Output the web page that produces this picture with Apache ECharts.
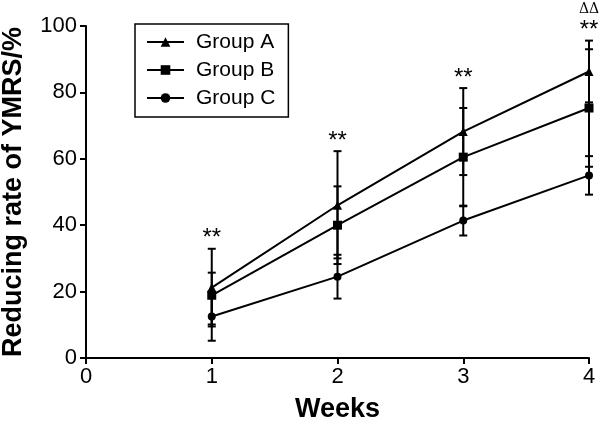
<!DOCTYPE html>
<html><head><meta charset="utf-8">
<script src="https://cdn.jsdelivr.net/npm/echarts@6/dist/echarts.min.js"></script>
<style>html,body{margin:0;padding:0;background:#fff}#c{width:602px;height:429px}</style>
</head><body><div id="c"></div>
<script>
const weeks = [1, 2, 3, 4];
const xTicks = [0, 1, 2, 3, 4];
const yTicks = [0, 20, 40, 60, 80, 100];
const groupNames = ['Group A', 'Group B', 'Group C'];
const groupA = [21.2, 46.0, 68.2, 86.3];
const groupB = [18.9, 40.0, 60.5, 75.3];
const groupC = [12.5, 24.5, 41.4, 55.0];
const groupALow = [9.5, 30.0, 55.1, 77.0];
const groupAHigh = [32.9, 62.3, 81.3, 95.6];
const groupBLow = [10.1, 28.3, 45.7, 57.6];
const groupBHigh = [25.7, 51.7, 75.3, 93.0];
const groupCLow = [5.2, 17.9, 36.9, 49.2];
const groupCHigh = [19.8, 31.1, 45.9, 60.8];
const starLabels = ['**', '**', '**', '**'];
const deltaLabels = ['', '', '', 'ΔΔ'];

const FONT = 'Liberation Sans, Arial, sans-serif';
const chart = echarts.init(document.getElementById('c'), null, {renderer: 'canvas'});

function errData(low, high) {
  return weeks.map((w, i) => [w, low[i], high[i]]);
}
function errRender(params, api) {
  const x = api.value(0);
  const lo = api.coord([x, api.value(1)]);
  const hi = api.coord([x, api.value(2)]);
  const cw = 4;
  const st = {stroke: '#000', lineWidth: 2};
  return {type: 'group', children: [
    {type: 'line', shape: {x1: lo[0], y1: lo[1], x2: hi[0], y2: hi[1]}, style: st},
    {type: 'line', shape: {x1: lo[0] - cw, y1: lo[1], x2: lo[0] + cw, y2: lo[1]}, style: st},
    {type: 'line', shape: {x1: hi[0] - cw, y1: hi[1], x2: hi[0] + cw, y2: hi[1]}, style: st}
  ]};
}
const tops = weeks.map((w, i) => [w, Math.max(groupAHigh[i], groupBHigh[i], groupCHigh[i]), i]);

function lineSeries(name, data, symbol, size) {
  return {
    name, type: 'line', data: weeks.map((w, i) => [w, data[i]]),
    symbol, symbolSize: size, showSymbol: true,
    lineStyle: {color: '#000', width: 2}, itemStyle: {color: '#000'},
    z: 5, animation: false
  };
}

chart.setOption({
  animation: false,
  backgroundColor: '#fff',
  grid: {left: 86, right: 13, top: 26, bottom: 71, containLabel: false, outerBoundsMode: 'none'},
  legend: {
    data: groupNames, orient: 'vertical', left: 135, top: 24,
    padding: [7, 13, 8, 11], itemGap: 6, itemWidth: 37, itemHeight: 12,
    borderColor: '#000', borderWidth: 1.5, borderRadius: 0,
    textStyle: {fontFamily: FONT, fontSize: 21, lineHeight: 22, color: '#000', padding: [0, 0, 0, 7]}
  },
  xAxis: {
    type: 'value', min: 0, max: 4, interval: 1,
    name: 'Weeks', nameLocation: 'middle', nameGap: 38,
    nameTextStyle: {fontFamily: FONT, fontSize: 27, fontWeight: 'bold', color: '#000'},
    axisLine: {show: true, onZero: false, lineStyle: {color: '#000', width: 2}},
    axisTick: {show: true, length: 6, lineStyle: {color: '#000', width: 2}},
    axisLabel: {fontFamily: FONT, fontSize: 22, color: '#000', margin: 8,
      formatter: v => xTicks.includes(v) ? String(v) : ''},
    splitLine: {show: false}
  },
  yAxis: {
    type: 'value', min: 0, max: 100, interval: 20,
    name: 'Reducing rate of YMRS/%', nameLocation: 'middle', nameGap: 59,
    nameTextStyle: {fontFamily: FONT, fontSize: 27, fontWeight: 'bold', color: '#000'},
    axisLine: {show: true, lineStyle: {color: '#000', width: 2}},
    axisTick: {show: true, length: 6, lineStyle: {color: '#000', width: 2}},
    axisLabel: {fontFamily: FONT, fontSize: 22, color: '#000', margin: 9,
      formatter: v => yTicks.includes(v) ? String(v) : ''},
    splitLine: {show: false}
  },
  series: [
    lineSeries(groupNames[0], groupA, 'triangle', 9),
    lineSeries(groupNames[1], groupB, 'rect', 9),
    lineSeries(groupNames[2], groupC, 'circle', 8),
    {type: 'custom', renderItem: errRender, data: errData(groupALow, groupAHigh), z: 3, silent: true},
    {type: 'custom', renderItem: errRender, data: errData(groupBLow, groupBHigh), z: 3, silent: true},
    {type: 'custom', renderItem: errRender, data: errData(groupCLow, groupCHigh), z: 3, silent: true},
    {type: 'custom', silent: true, z: 6, data: tops,
      renderItem: function (params, api) {
        const p = api.coord([api.value(0), api.value(1)]);
        const i = api.value(2);
        return {type: 'group', children: [
          {type: 'text', x: p[0], y: p[1] - 10, style: {text: starLabels[i], fill: '#000',
            font: '24px ' + FONT, align: 'center', verticalAlign: 'middle'}},
          {type: 'text', x: p[0], y: p[1] - 31, style: {text: deltaLabels[i], fill: '#000',
            font: '14px "DejaVu Serif", "Liberation Serif", serif', align: 'center', verticalAlign: 'middle'}}
        ]};
      }}
  ]
});
</script></body></html>
